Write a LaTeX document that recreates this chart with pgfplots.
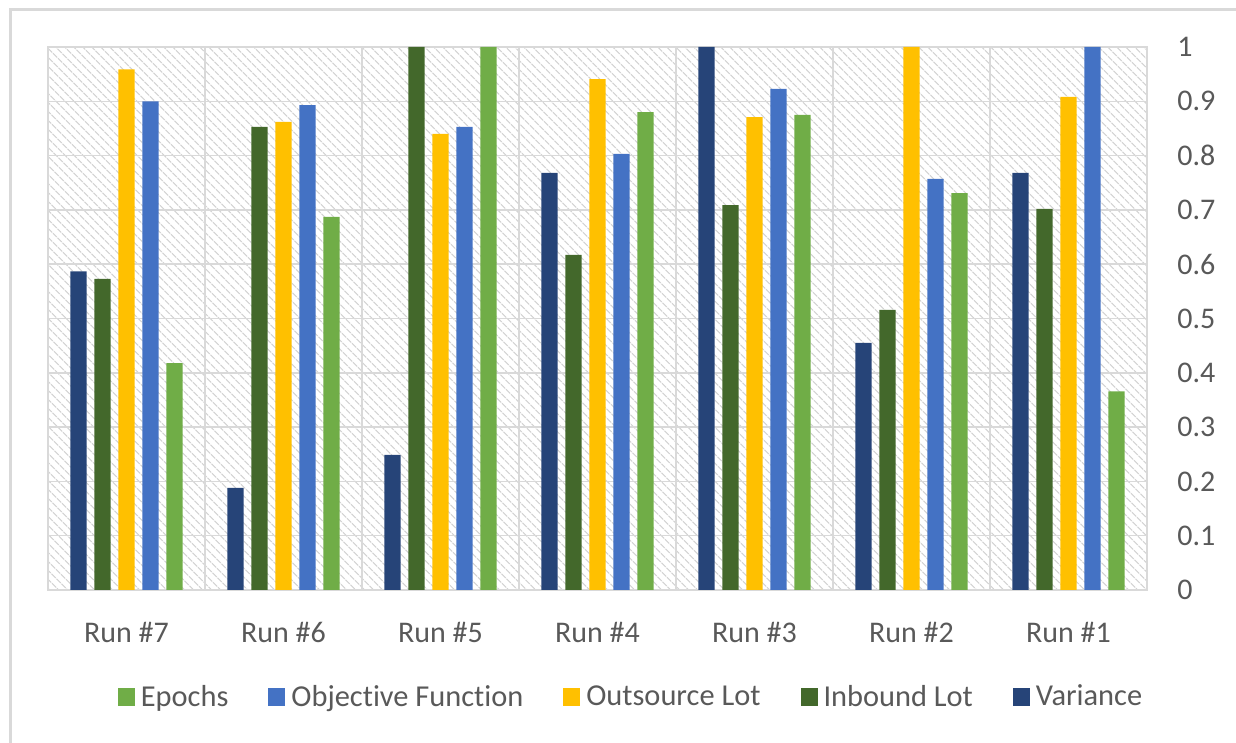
\documentclass[border=0pt]{standalone}
\usepackage{fontspec}
\setmainfont{Carlito}[Ligatures=NoCommon]
\usepackage{pgfplots}
\usepackage{pgfplotstable}
\pgfplotsset{compat=1.18}
\usetikzlibrary{patterns.meta}
\definecolor{cVar}{HTML}{264478}
\definecolor{cInb}{HTML}{43682B}
\definecolor{cOut}{HTML}{FFC000}
\definecolor{cObj}{HTML}{4472C4}
\definecolor{cEpo}{HTML}{70AD47}
\definecolor{gridc}{HTML}{D9D9D9}
\definecolor{framec}{HTML}{D9D9D9}
\definecolor{txt}{HTML}{595959}
\pgfplotstableread{
x var inb out obj epo
0 0.587 0.573 0.959 0.900 0.418
1 0.188 0.853 0.862 0.893 0.687
2 0.249 1.000 0.840 0.853 1.000
3 0.768 0.617 0.941 0.803 0.880
4 1.000 0.709 0.871 0.923 0.875
5 0.455 0.516 1.000 0.757 0.731
6 0.768 0.702 0.908 1.000 0.366
}\datatable
\begin{document}
\begin{tikzpicture}
\useasboundingbox (0bp,0bp) rectangle (618bp,371.5bp);
\begin{scope}
\clip (0bp,0bp) rectangle (618bp,371.5bp);
\draw[color=framec, line width=1.5bp] (5bp,-20bp) rectangle (640bp,366.5bp);
\end{scope}
\begin{axis}[
  at={(24bp,76.5bp)}, anchor=south west,
  scale only axis, width=549.5bp, height=271.5bp,
  ybar=3.8bp, bar width=8.2bp,
  xmin=-0.5, xmax=6.5, ymin=0, ymax=1,
  xtick={0,1,2,3,4,5,6},
  xticklabels={Run \#7, Run \#6, Run \#5, Run \#4, Run \#3, Run \#2, Run \#1},
  minor xtick={0.5,1.5,2.5,3.5,4.5,5.5},
  ytick={0,0.1,0.2,0.3,0.4,0.5,0.6,0.7,0.8,0.9,1},
  yticklabel pos=right,
  /pgf/number format/assume math mode=true,
  /pgf/number format/fixed, /pgf/number format/precision=1,
  major tick length=0pt, minor tick length=0pt,
  ymajorgrids, xminorgrids,
  grid style={color=gridc, line width=0.75bp},
  minor grid style={color=gridc, line width=0.75bp},
  axis line style={color=gridc, line width=0.75bp},
  axis background/.style={pattern={Lines[angle=-45,distance=3.6bp,line width=0.7bp]}, pattern color=black!17},
  tick label style={font=\fontsize{15bp}{18bp}\selectfont, text=txt},
  xticklabel style={anchor=north, inner sep=0pt, yshift=-16bp},
  yticklabel style={anchor=west, inner sep=0pt, xshift=15bp},
  legend style={draw=none, fill=none, at={(0.5296,-0.197)}, anchor=center,
    font=\fontsize{15.2bp}{18bp}\selectfont, text=txt, legend columns=-1,
    nodes={inner sep=0pt},
    /tikz/every odd column/.append style={column sep=3bp},
    /tikz/every even column/.append style={column sep=20bp}},
  legend image code/.code={\fill[#1] (0bp,-4.3bp) rectangle (8.5bp,4.3bp);},
  reverse legend,
]
\addplot[fill=cVar, draw=none] table[x=x, y=var] {\datatable};
\addplot[fill=cInb, draw=none] table[x=x, y=inb] {\datatable};
\addplot[fill=cOut, draw=none] table[x=x, y=out] {\datatable};
\addplot[fill=cObj, draw=none] table[x=x, y=obj] {\datatable};
\addplot[fill=cEpo, draw=none] table[x=x, y=epo] {\datatable};
\legend{Variance, Inbound Lot, Outsource Lot, Objective Function, Epochs}
\end{axis}
\end{tikzpicture}
\end{document}
